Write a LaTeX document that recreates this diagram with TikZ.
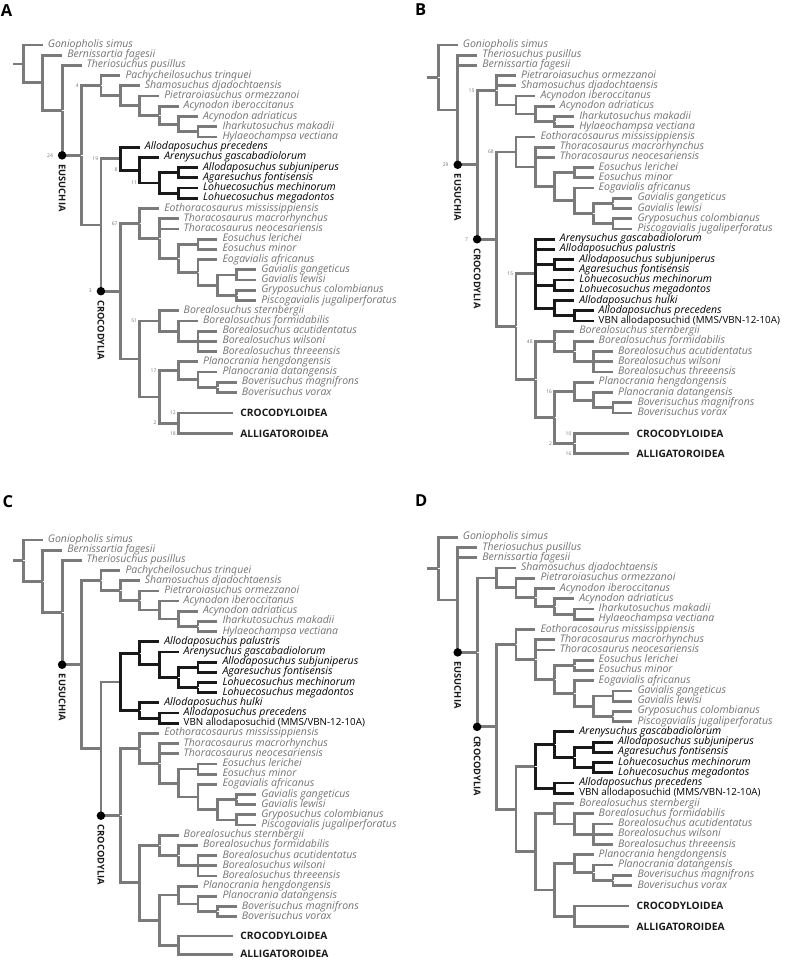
\documentclass[tikz,border=0pt]{standalone}
\usepackage{fontspec}
\setmainfont{Open Sans}
\usetikzlibrary{positioning}
\definecolor{tg}{RGB}{122,122,122}
\definecolor{tt}{RGB}{115,115,115}
\definecolor{tb}{RGB}{25,25,25}
\newcommand\taxsize{\fontsize{10.5}{10.5}\selectfont}
\tikzstyle{vertex}=[circle, fill=black, minimum size=8.5pt, inner sep=0pt]
\tikzset{
  inode/.style = {inner sep=0pt, minimum size=0pt},
  branch/.style = {draw=tg, line width=2.8pt},
  branchb/.style = {draw=tb, line width=2.8pt},
  taxon/.style = {anchor=west, inner xsep=5pt, inner ysep=0pt, text height=7.5pt, text depth=2.4pt, text=tt, font=\taxsize\itshape},
  taxonb/.style = {taxon, text=black},
  specimen/.style = {taxon, text=black, font=\fontsize{9.8}{10}\selectfont},
  higher/.style = {anchor=west, inner xsep=7pt, inner ysep=0pt, text height=7.3pt, text depth=0pt, text=tb, font=\fontsize{10.2}{10.2}\selectfont\bfseries},
  support/.style = {anchor=east, inner sep=0pt, xshift=-2.5pt, text=tt, font=\fontsize{5}{5}\selectfont},
  supportdot/.style = {support, xshift=-6.5pt},
  cladename/.style = {rotate=-90, anchor=west, inner sep=0pt, text height=6.7pt, text depth=0pt, text=tb, font=\fontsize{9.3}{10}\selectfont\bfseries},
  panel/.style = {anchor=north west, inner sep=0pt, font=\fontsize{16.5}{17}\selectfont\bfseries},
}

\begin{document}
\begin{tikzpicture}
	\useasboundingbox (0,0) rectangle (791pt,-960pt);

	\node[panel] (labA) at (0.7pt,-4pt) {A};
	\node[panel] (labB) at (415pt,-3.5pt) {B};
	\node[panel] (labC) at (2.5pt,-495pt) {C};
	\node[panel] (labD) at (415pt,-495pt) {D};

	% tree A
	\begin{scope}[shift={(23.3pt,-45pt)}, x=19.4pt, y=-10.22pt]
	\foreach \n/\x/\y in {sA/-0.55/1.85, rootA/0/1.85, nA2/1/3.70, nA3/2/6.40, eusA/3/10.80,
		hA1/4/3.98, hA2/5/4.97, hA3/6/5.94, hA4/7/6.88, hA5/8/7.75, hA6/9/8.5,
		zA/4/17.61, aA1/5/11.13, aA2/6/12.25, aA3/7/13.5, aA4/8/12.5, aA5/8/14.5,
		crA/5/24.09, gA1/6/17.47, gA2/7/18.94, gA3/8/20.88, gA4/9/19.5, gA5/9/22.25, gA6/10/23.5, gA7/11/22.5, gA8/11/24.5,
		bA1/6/30.72, bA2/7/27, bA3/8/28, bA4/9/29, bA5/7/34.44, pA1/8/31.88, pA2/9/32.75, pA3/10/33.5, cA1/8/37}
		\node[inode] (\n) at (\x,\y) {};

	\node[taxon] (gonA) at (1,0) {Goniopholis simus};
	\node[taxon] (berA) at (2,1) {Bernissartia fagesii};
	\node[taxon] (theA) at (3,2) {Theriosuchus pusillus};
	\node[taxon] (pacA) at (5,3) {Pachycheilosuchus trinquei};
	\node[taxon] (shaA) at (6,4) {Shamosuchus djadochtaensis};
	\node[taxon] (pieA) at (7,5) {Pietraroiasuchus ormezzanoi};
	\node[taxon] (ibeA) at (8,6) {Acynodon iberoccitanus};
	\node[taxon] (adrA) at (9,7) {Acynodon adriaticus};
	\node[taxon] (ihaA) at (10,8) {Iharkutosuchus makadii};
	\node[taxon] (hylA) at (10,9) {Hylaeochampsa vectiana};
	\node[taxonb] (precA) at (6,10) {Allodaposuchus precedens};
	\node[taxonb] (areA) at (7,11) {Arenysuchus gascabadiolorum};
	\node[taxonb] (subA) at (9,12) {Allodaposuchus subjuniperus};
	\node[taxonb] (fonA) at (9,13) {Agaresuchus fontisensis};
	\node[taxonb] (mecA) at (9,14) {Lohuecosuchus mechinorum};
	\node[taxonb] (megA) at (9,15) {Lohuecosuchus megadontos};
	\node[taxon] (eotA) at (7,16) {Eothoracosaurus mississippiensis};
	\node[taxon] (macA) at (8,17) {Thoracosaurus macrorhynchus};
	\node[taxon] (neoA) at (8,18) {Thoracosaurus neocesariensis};
	\node[taxon] (lerA) at (10,19) {Eosuchus lerichei};
	\node[taxon] (minA) at (10,20) {Eosuchus minor};
	\node[taxon] (eogA) at (10,21) {Eogavialis africanus};
	\node[taxon] (ganA) at (12,22) {Gavialis gangeticus};
	\node[taxon] (lewA) at (12,23) {Gavialis lewisi};
	\node[taxon] (gryA) at (12,24) {Gryposuchus colombianus};
	\node[taxon] (pisA) at (12,25) {Piscogavialis jugaliperforatus};
	\node[taxon] (steA) at (8,26) {Borealosuchus sternbergii};
	\node[taxon] (forA) at (9,27) {Borealosuchus formidabilis};
	\node[taxon] (acuA) at (10,28) {Borealosuchus acutidentatus};
	\node[taxon] (wilA) at (10,29) {Borealosuchus wilsoni};
	\node[taxon] (thrA) at (10,30) {Borealosuchus threeensis};
	\node[taxon] (henA) at (9,31) {Planocrania hengdongensis};
	\node[taxon] (datA) at (10,32) {Planocrania datangensis};
	\node[taxon] (magA) at (11,33) {Boverisuchus magnifrons};
	\node[taxon] (vorA) at (11,34) {Boverisuchus vorax};
	\node[higher] (crocA) at (10.82,36) {CROCODYLOIDEA};
	\node[higher] (alliA) at (10.82,38) {ALLIGATOROIDEA};

	\draw[branch] (sA) -- (rootA);
	\foreach \pa/\ch in {rootA/gonA, rootA/nA2, nA2/berA, nA2/nA3, nA3/theA, nA3/eusA, eusA/hA1, eusA/zA,
		hA1/pacA, hA1/hA2, hA2/shaA, hA2/hA3, hA3/pieA, hA3/hA4, hA4/ibeA, hA4/hA5, hA5/adrA, hA5/hA6, hA6/ihaA, hA6/hylA,
		zA/aA1, zA/crA, crA/gA1, crA/bA1,
		gA1/eotA, gA1/gA2, gA2/macA, gA2/neoA, gA2/gA3, gA3/gA4, gA3/gA5, gA4/lerA, gA4/minA, gA5/eogA, gA5/gA6,
		gA6/gA7, gA6/gA8, gA7/ganA, gA7/lewA, gA8/gryA, gA8/pisA,
		bA1/bA2, bA1/bA5, bA2/steA, bA2/bA3, bA3/forA, bA3/bA4, bA4/acuA, bA4/wilA, bA4/thrA,
		bA5/pA1, bA5/cA1, pA1/henA, pA1/pA2, pA2/datA, pA2/pA3, pA3/magA, pA3/vorA, cA1/crocA, cA1/alliA}
		\draw[branch] (\pa) |- (\ch.west);
	\foreach \pa/\ch in {aA1/precA, aA1/aA2, aA2/areA, aA2/aA3, aA3/aA4, aA3/aA5, aA4/subA, aA4/fonA, aA5/mecA, aA5/megA}
		\draw[branchb] (\pa) |- (\ch.west);

	\node[vertex] (dEusA) at (nA3 |- eusA) {};
	\node[vertex] (dCroA) at (zA |- crA) {};
	\node[cladename] (tEusA) at ([yshift=-9pt]dEusA.center) {EUSUCHIA};
	\node[cladename] (tCroA) at ([yshift=-9pt]dCroA.center) {CROCODYLIA};

	\node[supportdot] (s1A) at (nA3 |- eusA) {24};
	\node[supportdot] (s2A) at (zA |- crA) {3};
	\node[support] (s3A) at (eusA |- hA1) {4};
	\node[support] (s4A) at (zA |- aA1) {19};
	\node[support] (s5A) at (aA1 |- aA2) {8};
	\node[support] (s6A) at (aA2 |- aA3) {11};
	\node[support] (s7A) at (crA |- gA1) {67};
	\node[support] (s8A) at (bA1 |- bA2) {51};
	\node[support] (s9A) at (bA5 |- pA1) {17};
	\node[support] (s10A) at (bA5 |- cA1) {2};
	\node[support] (s11A) at (cA1 |- crocA) {12};
	\node[support] (s12A) at (cA1 |- alliA) {18};
	\end{scope}

	% tree B
	\begin{scope}[shift={(438.3pt,-45pt)}, x=19.4pt, y=-10.22pt]
	\foreach \n/\x/\y in {sB/-0.6/3.18, rootB/0/3.18, nB2/1/6.36, eusB/2/11.72,
		hB1/3/4.44, hB2/4/5.88, hB3/5/6.75, hB4/6/7.5,
		crB/3/19.01, gB1/4/10.47, gB2/5/11.94, gB3/6/13.88, gB4/7/12.5, gB5/7/15.25, gB6/8/16.5, gB7/9/15.5, gB8/9/17.5,
		xB/4/27.55, aB1/5/22.38, aB2/6/21.5, aB3/6/23.5, aB4/6/25.75, aB5/7/26.5,
		bB1/5/32.72, bB2/6/29, bB3/7/30, bB4/8/31, bB5/6/36.44, pB1/7/33.88, pB2/8/34.75, pB3/9/35.5, cB1/7/39}
		\node[inode] (\n) at (\x,\y) {};

	\node[taxon] (gonB) at (1,0) {Goniopholis simus};
	\node[taxon] (theB) at (2,1) {Theriosuchus pusillus};
	\node[taxon] (berB) at (2,2) {Bernissartia fagesii};
	\node[taxon] (pieB) at (4,3) {Pietraroiasuchus ormezzanoi};
	\node[taxon] (shaB) at (4,4) {Shamosuchus djadochtaensis};
	\node[taxon] (ibeB) at (5,5) {Acynodon iberoccitanus};
	\node[taxon] (adrB) at (6,6) {Acynodon adriaticus};
	\node[taxon] (ihaB) at (7,7) {Iharkutosuchus makadii};
	\node[taxon] (hylB) at (7,8) {Hylaeochampsa vectiana};
	\node[taxon] (eotB) at (5,9) {Eothoracosaurus mississippiensis};
	\node[taxon] (macB) at (6,10) {Thoracosaurus macrorhynchus};
	\node[taxon] (neoB) at (6,11) {Thoracosaurus neocesariensis};
	\node[taxon] (lerB) at (8,12) {Eosuchus lerichei};
	\node[taxon] (minB) at (8,13) {Eosuchus minor};
	\node[taxon] (eogB) at (8,14) {Eogavialis africanus};
	\node[taxon] (ganB) at (10,15) {Gavialis gangeticus};
	\node[taxon] (lewB) at (10,16) {Gavialis lewisi};
	\node[taxon] (gryB) at (10,17) {Gryposuchus colombianus};
	\node[taxon] (pisB) at (10,18) {Piscogavialis jugaliperforatus};
	\node[taxonb] (areB) at (6,19) {Arenysuchus gascabadiolorum};
	\node[taxonb] (palB) at (6,20) {Allodaposuchus palustris};
	\node[taxonb] (subB) at (7,21) {Allodaposuchus subjuniperus};
	\node[taxonb] (fonB) at (7,22) {Agaresuchus fontisensis};
	\node[taxonb] (mecB) at (7,23) {Lohuecosuchus mechinorum};
	\node[taxonb] (megB) at (7,24) {Lohuecosuchus megadontos};
	\node[taxonb] (hulB) at (7,25) {Allodaposuchus hulki};
	\node[taxonb] (precB) at (8,26) {Allodaposuchus precedens};
	\node[specimen] (vbnB) at (8,27) {VBN allodaposuchid (MMS/VBN-12-10A)};
	\node[taxon] (steB) at (7,28) {Borealosuchus sternbergii};
	\node[taxon] (forB) at (8,29) {Borealosuchus formidabilis};
	\node[taxon] (acuB) at (9,30) {Borealosuchus acutidentatus};
	\node[taxon] (wilB) at (9,31) {Borealosuchus wilsoni};
	\node[taxon] (thrB) at (9,32) {Borealosuchus threeensis};
	\node[taxon] (henB) at (8,33) {Planocrania hengdongensis};
	\node[taxon] (datB) at (9,34) {Planocrania datangensis};
	\node[taxon] (magB) at (10,35) {Boverisuchus magnifrons};
	\node[taxon] (vorB) at (10,36) {Boverisuchus vorax};
	\node[higher] (crocB) at (9.85,38) {CROCODYLOIDEA};
	\node[higher] (alliB) at (9.85,40) {ALLIGATOROIDEA};

	\draw[branch] (sB) -- (rootB);
	\foreach \pa/\ch in {rootB/gonB, rootB/nB2, nB2/theB, nB2/berB, nB2/eusB, eusB/hB1, eusB/crB,
		hB1/pieB, hB1/shaB, hB1/hB2, hB2/ibeB, hB2/hB3, hB3/adrB, hB3/hB4, hB4/ihaB, hB4/hylB,
		crB/gB1, crB/xB, gB1/eotB, gB1/gB2, gB2/macB, gB2/neoB, gB2/gB3, gB3/gB4, gB3/gB5, gB4/lerB, gB4/minB,
		gB5/eogB, gB5/gB6, gB6/gB7, gB6/gB8, gB7/ganB, gB7/lewB, gB8/gryB, gB8/pisB,
		xB/aB1, xB/bB1, bB1/bB2, bB1/bB5, bB2/steB, bB2/bB3, bB3/forB, bB3/bB4, bB4/acuB, bB4/wilB, bB4/thrB,
		bB5/pB1, bB5/cB1, pB1/henB, pB1/pB2, pB2/datB, pB2/pB3, pB3/magB, pB3/vorB, cB1/crocB, cB1/alliB}
		\draw[branch] (\pa) |- (\ch.west);
	\foreach \pa/\ch in {aB1/areB, aB1/palB, aB1/aB2, aB1/aB3, aB1/aB4, aB2/subB, aB2/fonB, aB3/mecB, aB3/megB,
		aB4/hulB, aB4/aB5, aB5/precB, aB5/vbnB}
		\draw[branchb] (\pa) |- (\ch.west);

	\node[vertex] (dEusB) at (nB2 |- eusB) {};
	\node[vertex] (dCroB) at (eusB |- crB) {};
	\node[cladename] (tEusB) at ([yshift=-9pt]dEusB.center) {EUSUCHIA};
	\node[cladename] (tCroB) at ([yshift=-9pt]dCroB.center) {CROCODYLIA};

	\node[supportdot] (s1B) at (nB2 |- eusB) {29};
	\node[supportdot] (s2B) at (eusB |- crB) {7};
	\node[support] (s3B) at (eusB |- hB1) {15};
	\node[support] (s4B) at (crB |- gB1) {68};
	\node[support] (s5B) at (xB |- aB1) {15};
	\node[support] (s6B) at (bB1 |- bB2) {48};
	\node[support] (s7B) at (bB5 |- pB1) {16};
	\node[support] (s8B) at (bB5 |- cB1) {2};
	\node[support] (s9B) at (cB1 |- crocB) {10};
	\node[support] (s10B) at (cB1 |- alliB) {16};
	\end{scope}

	% tree C
	\begin{scope}[shift={(23.3pt,-540pt)}, x=19.4pt, y=-10.18pt]
	\foreach \n/\x/\y in {sC/-0.55/2.03, rootC/0/2.03, nC2/1/4.06, nC3/2/7.12, eusC/3/12.25,
		hC1/4/3.98, hC2/5/4.97, hC3/6/5.94, hC4/7/6.88, hC5/8/7.75, hC6/9/8.5,
		zC/4/20.51, aC0/5/13.94, aC1/6/11.13, aC2/7/12.25, aC3/8/13.5, aC4/9/12.5, aC5/9/14.5, aC6/6/16.75, aC7/7/17.5,
		crC/5/27.08, gC1/6/20.47, gC2/7/21.94, gC3/8/23.88, gC4/9/22.5, gC5/9/25.25, gC6/10/26.5, gC7/11/25.5, gC8/11/27.5,
		bC1/6/33.67, bC2/7/30, bC3/8/31, bC4/9/32, bC5/7/37.34, pC1/8/34.88, pC2/9/35.75, pC3/10/36.5, cC1/8/39.8}
		\node[inode] (\n) at (\x,\y) {};

	\node[taxon] (gonC) at (1,0) {Goniopholis simus};
	\node[taxon] (berC) at (2,1) {Bernissartia fagesii};
	\node[taxon] (theC) at (3,2) {Theriosuchus pusillus};
	\node[taxon] (pacC) at (5,3) {Pachycheilosuchus trinquei};
	\node[taxon] (shaC) at (6,4) {Shamosuchus djadochtaensis};
	\node[taxon] (pieC) at (7,5) {Pietraroiasuchus ormezzanoi};
	\node[taxon] (ibeC) at (8,6) {Acynodon iberoccitanus};
	\node[taxon] (adrC) at (9,7) {Acynodon adriaticus};
	\node[taxon] (ihaC) at (10,8) {Iharkutosuchus makadii};
	\node[taxon] (hylC) at (10,9) {Hylaeochampsa vectiana};
	\node[taxonb] (palC) at (7,10) {Allodaposuchus palustris};
	\node[taxonb] (areC) at (8,11) {Arenysuchus gascabadiolorum};
	\node[taxonb] (subC) at (10,12) {Allodaposuchus subjuniperus};
	\node[taxonb] (fonC) at (10,13) {Agaresuchus fontisensis};
	\node[taxonb] (mecC) at (10,14) {Lohuecosuchus mechinorum};
	\node[taxonb] (megC) at (10,15) {Lohuecosuchus megadontos};
	\node[taxonb] (hulC) at (7,16) {Allodaposuchus hulki};
	\node[taxonb] (precC) at (8,17) {Allodaposuchus precedens};
	\node[specimen] (vbnC) at (8,18) {VBN allodaposuchid (MMS/VBN-12-10A)};
	\node[taxon] (eotC) at (7,19) {Eothoracosaurus mississippiensis};
	\node[taxon] (macC) at (8,20) {Thoracosaurus macrorhynchus};
	\node[taxon] (neoC) at (8,21) {Thoracosaurus neocesariensis};
	\node[taxon] (lerC) at (10,22) {Eosuchus lerichei};
	\node[taxon] (minC) at (10,23) {Eosuchus minor};
	\node[taxon] (eogC) at (10,24) {Eogavialis africanus};
	\node[taxon] (ganC) at (12,25) {Gavialis gangeticus};
	\node[taxon] (lewC) at (12,26) {Gavialis lewisi};
	\node[taxon] (gryC) at (12,27) {Gryposuchus colombianus};
	\node[taxon] (pisC) at (12,28) {Piscogavialis jugaliperforatus};
	\node[taxon] (steC) at (8,29) {Borealosuchus sternbergii};
	\node[taxon] (forC) at (9,30) {Borealosuchus formidabilis};
	\node[taxon] (acuC) at (10,31) {Borealosuchus acutidentatus};
	\node[taxon] (wilC) at (10,32) {Borealosuchus wilsoni};
	\node[taxon] (thrC) at (10,33) {Borealosuchus threeensis};
	\node[taxon] (henC) at (9,34) {Planocrania hengdongensis};
	\node[taxon] (datC) at (10,35) {Planocrania datangensis};
	\node[taxon] (magC) at (11,36) {Boverisuchus magnifrons};
	\node[taxon] (vorC) at (11,37) {Boverisuchus vorax};
	\node[higher] (crocC) at (10.82,38.9) {CROCODYLOIDEA};
	\node[higher] (alliC) at (10.82,40.7) {ALLIGATOROIDEA};

	\draw[branch] (sC) -- (rootC);
	\foreach \pa/\ch in {rootC/gonC, rootC/nC2, nC2/berC, nC2/nC3, nC3/theC, nC3/eusC, eusC/hC1, eusC/zC,
		hC1/pacC, hC1/hC2, hC2/shaC, hC2/hC3, hC3/pieC, hC3/hC4, hC4/ibeC, hC4/hC5, hC5/adrC, hC5/hC6, hC6/ihaC, hC6/hylC,
		zC/aC0, zC/crC, crC/gC1, crC/bC1,
		gC1/eotC, gC1/gC2, gC2/macC, gC2/neoC, gC2/gC3, gC3/gC4, gC3/gC5, gC4/lerC, gC4/minC, gC5/eogC, gC5/gC6,
		gC6/gC7, gC6/gC8, gC7/ganC, gC7/lewC, gC8/gryC, gC8/pisC,
		bC1/bC2, bC1/bC5, bC2/steC, bC2/bC3, bC3/forC, bC3/bC4, bC4/acuC, bC4/wilC, bC4/thrC,
		bC5/pC1, bC5/cC1, pC1/henC, pC1/pC2, pC2/datC, pC2/pC3, pC3/magC, pC3/vorC, cC1/crocC, cC1/alliC}
		\draw[branch] (\pa) |- (\ch.west);
	\foreach \pa/\ch in {aC0/aC1, aC0/aC6, aC1/palC, aC1/aC2, aC2/areC, aC2/aC3, aC3/aC4, aC3/aC5,
		aC4/subC, aC4/fonC, aC5/mecC, aC5/megC, aC6/hulC, aC6/aC7, aC7/precC, aC7/vbnC}
		\draw[branchb] (\pa) |- (\ch.west);

	\node[vertex] (dEusC) at (nC3 |- eusC) {};
	\node[vertex] (dCroC) at (zC |- crC) {};
	\node[cladename] (tEusC) at ([yshift=-9pt]dEusC.center) {EUSUCHIA};
	\node[cladename] (tCroC) at ([yshift=-9pt]dCroC.center) {CROCODYLIA};
	\end{scope}

	% tree D
	\begin{scope}[shift={(438.3pt,-537.3pt)}, x=19.4pt, y=-10.24pt]
	\foreach \n/\x/\y in {sD/-0.6/3.06, rootD/0/3.06, nD2/1/6.12, eusD/2/11.24,
		hD1/3/3.97, hD2/4/4.94, hD3/5/5.88, hD4/6/6.75, hD5/7/7.5,
		crD/3/18.51, gD1/4/10.47, gD2/5/11.94, gD3/6/13.88, gD4/7/12.5, gD5/7/15.25, gD6/8/16.5, gD7/9/15.5, gD8/9/17.5,
		xD/4/26.55, aD1/5/22.38, aD2/6/20.25, aD3/7/21.5, aD4/8/20.5, aD6/8/22.5, aD5/6/24.5,
		bD1/5/30.72, bD2/6/27, bD3/7/28, bD4/8/29, bD5/6/34.44, pD1/7/31.88, pD2/8/32.75, pD3/9/33.5, cD1/7/37}
		\node[inode] (\n) at (\x,\y) {};

	\node[taxon] (gonD) at (1,0) {Goniopholis simus};
	\node[taxon] (theD) at (2,1) {Theriosuchus pusillus};
	\node[taxon] (berD) at (2,2) {Bernissartia fagesii};
	\node[taxon] (shaD) at (4,3) {Shamosuchus djadochtaensis};
	\node[taxon] (pieD) at (5,4) {Pietraroiasuchus ormezzanoi};
	\node[taxon] (ibeD) at (6,5) {Acynodon iberoccitanus};
	\node[taxon] (adrD) at (7,6) {Acynodon adriaticus};
	\node[taxon] (ihaD) at (8,7) {Iharkutosuchus makadii};
	\node[taxon] (hylD) at (8,8) {Hylaeochampsa vectiana};
	\node[taxon] (eotD) at (5,9) {Eothoracosaurus mississippiensis};
	\node[taxon] (macD) at (6,10) {Thoracosaurus macrorhynchus};
	\node[taxon] (neoD) at (6,11) {Thoracosaurus neocesariensis};
	\node[taxon] (lerD) at (8,12) {Eosuchus lerichei};
	\node[taxon] (minD) at (8,13) {Eosuchus minor};
	\node[taxon] (eogD) at (8,14) {Eogavialis africanus};
	\node[taxon] (ganD) at (10,15) {Gavialis gangeticus};
	\node[taxon] (lewD) at (10,16) {Gavialis lewisi};
	\node[taxon] (gryD) at (10,17) {Gryposuchus colombianus};
	\node[taxon] (pisD) at (10,18) {Piscogavialis jugaliperforatus};
	\node[taxonb] (areD) at (7,19) {Arenysuchus gascabadiolorum};
	\node[taxonb] (subD) at (9,20) {Allodaposuchus subjuniperus};
	\node[taxonb] (fonD) at (9,21) {Agaresuchus fontisensis};
	\node[taxonb] (mecD) at (9,22) {Lohuecosuchus mechinorum};
	\node[taxonb] (megD) at (9,23) {Lohuecosuchus megadontos};
	\node[taxonb] (precD) at (7,24) {Allodaposuchus precedens};
	\node[specimen] (vbnD) at (7,25) {VBN allodaposuchid (MMS/VBN-12-10A)};
	\node[taxon] (steD) at (7,26) {Borealosuchus sternbergii};
	\node[taxon] (forD) at (8,27) {Borealosuchus formidabilis};
	\node[taxon] (acuD) at (9,28) {Borealosuchus acutidentatus};
	\node[taxon] (wilD) at (9,29) {Borealosuchus wilsoni};
	\node[taxon] (thrD) at (9,30) {Borealosuchus threeensis};
	\node[taxon] (henD) at (8,31) {Planocrania hengdongensis};
	\node[taxon] (datD) at (9,32) {Planocrania datangensis};
	\node[taxon] (magD) at (10,33) {Boverisuchus magnifrons};
	\node[taxon] (vorD) at (10,34) {Boverisuchus vorax};
	\node[higher] (crocD) at (9.85,36) {CROCODYLOIDEA};
	\node[higher] (alliD) at (9.85,38) {ALLIGATOROIDEA};

	\draw[branch] (sD) -- (rootD);
	\foreach \pa/\ch in {rootD/gonD, rootD/nD2, nD2/theD, nD2/berD, nD2/eusD, eusD/hD1, eusD/crD,
		hD1/shaD, hD1/hD2, hD2/pieD, hD2/hD3, hD3/ibeD, hD3/hD4, hD4/adrD, hD4/hD5, hD5/ihaD, hD5/hylD,
		crD/gD1, crD/xD, gD1/eotD, gD1/gD2, gD2/macD, gD2/neoD, gD2/gD3, gD3/gD4, gD3/gD5, gD4/lerD, gD4/minD,
		gD5/eogD, gD5/gD6, gD6/gD7, gD6/gD8, gD7/ganD, gD7/lewD, gD8/gryD, gD8/pisD,
		xD/aD1, xD/bD1, bD1/bD2, bD1/bD5, bD2/steD, bD2/bD3, bD3/forD, bD3/bD4, bD4/acuD, bD4/wilD, bD4/thrD,
		bD5/pD1, bD5/cD1, pD1/henD, pD1/pD2, pD2/datD, pD2/pD3, pD3/magD, pD3/vorD, cD1/crocD, cD1/alliD}
		\draw[branch] (\pa) |- (\ch.west);
	\foreach \pa/\ch in {aD1/aD2, aD1/aD5, aD2/areD, aD2/aD3, aD3/aD4, aD3/aD6, aD4/subD, aD4/fonD,
		aD6/mecD, aD6/megD, aD5/precD, aD5/vbnD}
		\draw[branchb] (\pa) |- (\ch.west);

	\node[vertex] (dEusD) at (nD2 |- eusD) {};
	\node[vertex] (dCroD) at (eusD |- crD) {};
	\node[cladename] (tEusD) at ([yshift=-9pt]dEusD.center) {EUSUCHIA};
	\node[cladename] (tCroD) at ([yshift=-9pt]dCroD.center) {CROCODYLIA};
	\end{scope}

\end{tikzpicture}
\end{document}
